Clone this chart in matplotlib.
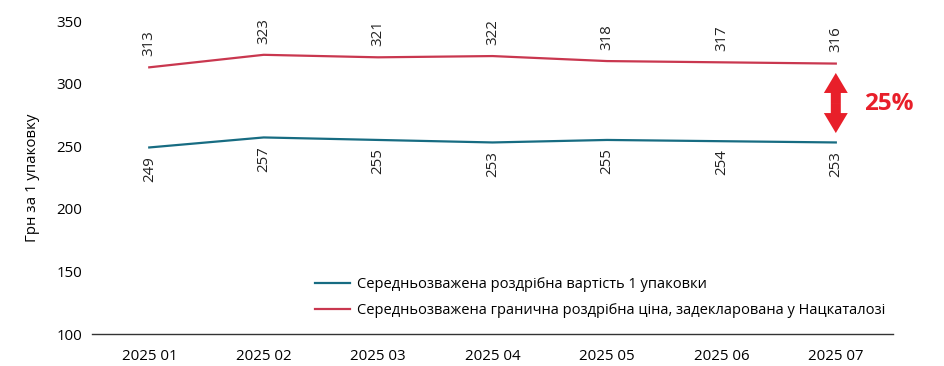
import matplotlib
matplotlib.use("Agg")
import matplotlib.pyplot as plt

months = ["2025 01", "2025 02", "2025 03", "2025 04", "2025 05", "2025 06", "2025 07"]
retail = [249, 257, 255, 253, 255, 254, 253]
limit = [313, 323, 321, 322, 318, 317, 316]
retail_label = "Середньозважена роздрібна вартість 1 упаковки"
limit_label = "Середньозважена гранична роздрібна ціна, задекларована у Нацкаталозі"
diff_text = "25%"
y_ticks = [100, 150, 200, 250, 300, 350]

plt.rcParams['font.family'] = ['Open Sans', 'DejaVu Sans']

teal = "#176c82"
red = "#c9374f"
bright = "#e81f2a"

fig = plt.figure(figsize=(9.45, 3.66), dpi=100)
ax = fig.add_axes([0.0974, 0.0874, 0.8476, 0.8552])
x = list(range(len(months)))
ax.plot(x, retail, color=teal, lw=1.6, label=retail_label)
ax.plot(x, limit, color=red, lw=1.6, label=limit_label)

for xi, v in zip(x, limit):
    ax.annotate(str(v), (xi, v), xytext=(0, 8), textcoords="offset points",
                rotation=90, ha="center", va="bottom", fontsize=10.8, color="#222222")
for xi, v in zip(x, retail):
    ax.annotate(str(v), (xi, v), xytext=(0, -6), textcoords="offset points",
                rotation=90, ha="center", va="top", fontsize=10.8, color="#222222")

ax.set_xlim(-0.5, 6.5)
ax.set_ylim(100, 350)
ax.set_xticks(x)
ax.set_xticklabels(months, fontsize=10.8)
ax.set_yticks(y_ticks)
ax.set_yticklabels([str(t) for t in y_ticks], fontsize=10.8)
ax.tick_params(length=0)
ax.tick_params(axis="x", pad=11)
ax.tick_params(axis="y", pad=7)
for s in ["top", "right", "left"]:
    ax.spines[s].set_visible(False)
ax.spines["bottom"].set_color("#333333")
ax.spines["bottom"].set_linewidth(1.0)
ax.set_ylabel("Грн за 1 упаковку", fontsize=10.8, labelpad=12)

top_tip, bottom_tip = 308.5, 260.5
mid = (top_tip + bottom_tip) / 2
style = "simple,head_width=0.86,head_length=0.72,tail_width=0.36"
for tip in (top_tip, bottom_tip):
    ax.annotate("", xy=(6, tip), xytext=(6, mid),
                arrowprops=dict(arrowstyle=style, color=bright, lw=0,
                                mutation_scale=20, shrinkA=0, shrinkB=0))
ax.text(6.245, 284, diff_text, color=bright, fontsize=17.5, fontweight="bold",
        va="center", ha="left")

leg = ax.legend(loc="lower left", bbox_to_anchor=(0.262, 0.01), frameon=False,
                fontsize=10.5, handlelength=2.4, handletextpad=0.5, labelspacing=0.75)

fig.savefig("out.png", dpi=100)
